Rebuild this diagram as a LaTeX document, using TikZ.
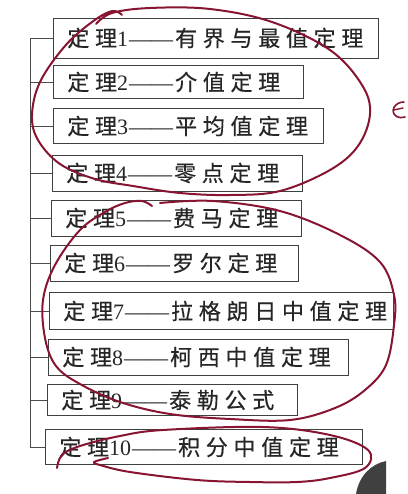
\documentclass[tikz,border=0pt]{standalone}
\usepackage{fontspec}
\setmainfont{Liberation Serif}
\newfontfamily\cjk[LetterSpace=26,FakeBold=0.4]{Noto Sans CJK SC}

\definecolor{penred}{RGB}{135,20,48}
\tikzset{
  thmbox/.style={draw=black!75, line width=0.8pt, fill=white, anchor=west,
    inner xsep=14pt, inner ysep=0pt, text=black!85,
    font=\fontsize{22}{24}\selectfont},
  stub/.style={draw=black!70, line width=0.6pt},
  pen/.style={draw=penred, line width=2pt, line cap=round, line join=round}
}
\newcommand{\thmtext}[2]{{\cjk 定理}#1\kern1pt——\kern2pt{\cjk #2}}

\begin{document}
\begin{tikzpicture}[x=1pt,y=-1pt]
\useasboundingbox (0,0) rectangle (407,494);

% Theorem boxes
\foreach \i/\l/\m/\h/\w/\t in {
  1/53/38/40/325/有界与最值定理,
  2/53/82/33/250/介值定理,
  3/53/126/35/270/平均值定理,
  4/52/173/36/250/零点定理,
  5/51/218/36/250/费马定理,
  6/50/263/36/248/罗尔定理,
  7/49/311/37/344/拉格朗日中值定理,
  8/48/357/36/300/柯西中值定理,
  9/47/400/31/250/泰勒公式,
  10/45/447/35/317/积分中值定理}{
  \pgfmathsetmacro\tw{\w-28}
  \node[thmbox, minimum height=\h pt] (b\i) at (\l,\m) {\makebox[\tw pt][l]{\thmtext{\i}{\t}}};
}

% Tree lines
\coordinate (trunk) at (30,0);
\draw[stub] (b1.west -| trunk) -- (b10.west -| trunk);
\foreach \i in {1,...,10}
  \draw[stub] (b\i.west -| trunk) -- (b\i.west);

% Hand-drawn marks
\draw[pen] plot[smooth, tension=0.6] coordinates {
  (96,24) (112,13) (150,8) (210,9) (272,22) (330,50) (362,85) (370,114)
  (358,146) (330,170) (280,191) (230,195) (180,193) (133,186) (95,179)
  (60,164) (38,140) (32,115) (40,82) (65,46) (92,22) (112,11) (122,15)};
\draw[pen] plot[smooth, tension=0.6] coordinates {
  (160,203) (213,201) (280,211) (340,235) (380,262) (394,295) (394,325)
  (386,365) (365,390) (335,408) (290,420) (230,419) (170,414) (120,402)
  (80,384) (56,366) (45,338) (43,300) (55,265) (80,230) (105,212)
  (125,203) (142,201) (152,206)};
\draw[pen] plot[smooth, tension=0.6] coordinates {
  (57,468) (62,455) (80,446) (120,436) (163,430) (263,427) (330,435)
  (368,450) (365,468) (330,478) (297,482) (250,482) (197,480) (130,472)
  (100,465) (94,462) (108,458)};
\draw[pen, line width=1.6pt] (404,102) .. controls (394,102) and (390,112) .. (396,116)
  .. controls (399,118) and (402,118) .. (405,117);
\draw[pen, line width=1.4pt] (394,110) -- (403,108);

% Shadow in the corner
\fill[black!75] (356,494) .. controls (359,476) and (371,464) .. (386,461) -- (386,494) -- cycle;

\end{tikzpicture}
\end{document}
